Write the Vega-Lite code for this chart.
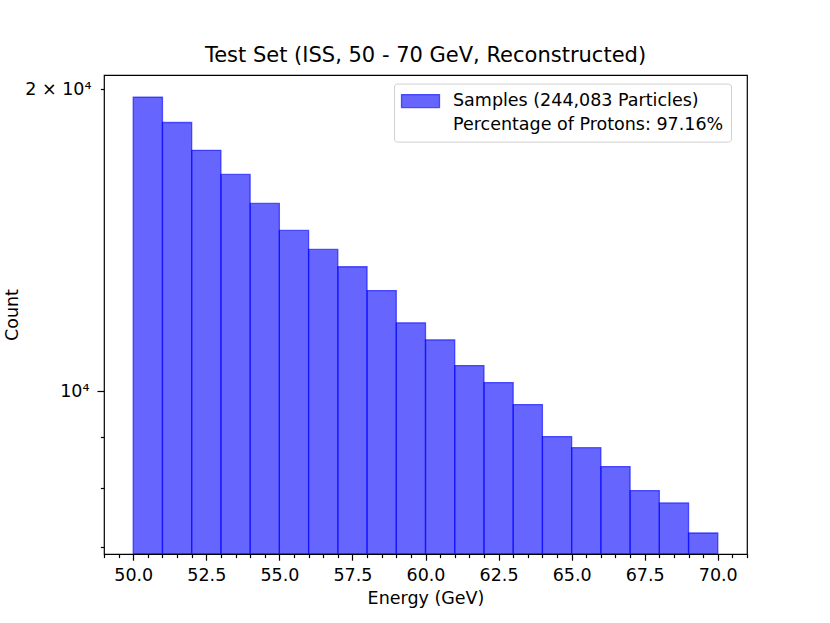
{
  "$schema": "https://vega.github.io/schema/vega-lite/v6.json",
  "width": 643,
  "height": 479,
  "autosize": {"type": "none"},
  "padding": {"left": 104, "top": 75, "right": 83, "bottom": 69},
  "background": "white",
  "title": {
    "text": "Test Set (ISS, 50 - 70 GeV, Reconstructed)",
    "fontSize": 21,
    "fontWeight": "normal",
    "font": "DejaVu Sans",
    "color": "black",
    "baseline": "alphabetic",
    "offset": -8,
    "anchor": "middle",
    "frame": "group"
  },
  "data": {
    "values": [
      {"bin_start": 50, "bin_end": 51, "count": 19650, "series": "Samples (244,083 Particles)"},
      {"bin_start": 51, "bin_end": 52, "count": 18537, "series": "Samples (244,083 Particles)"},
      {"bin_start": 52, "bin_end": 53, "count": 17390, "series": "Samples (244,083 Particles)"},
      {"bin_start": 53, "bin_end": 54, "count": 16453, "series": "Samples (244,083 Particles)"},
      {"bin_start": 54, "bin_end": 55, "count": 15393, "series": "Samples (244,083 Particles)"},
      {"bin_start": 55, "bin_end": 56, "count": 14468, "series": "Samples (244,083 Particles)"},
      {"bin_start": 56, "bin_end": 57, "count": 13851, "series": "Samples (244,083 Particles)"},
      {"bin_start": 57, "bin_end": 58, "count": 13310, "series": "Samples (244,083 Particles)"},
      {"bin_start": 58, "bin_end": 59, "count": 12603, "series": "Samples (244,083 Particles)"},
      {"bin_start": 59, "bin_end": 60, "count": 11702, "series": "Samples (244,083 Particles)"},
      {"bin_start": 60, "bin_end": 61, "count": 11254, "series": "Samples (244,083 Particles)"},
      {"bin_start": 61, "bin_end": 62, "count": 10608, "series": "Samples (244,083 Particles)"},
      {"bin_start": 62, "bin_end": 63, "count": 10202, "series": "Samples (244,083 Particles)"},
      {"bin_start": 63, "bin_end": 64, "count": 9699, "series": "Samples (244,083 Particles)"},
      {"bin_start": 64, "bin_end": 65, "count": 9012, "series": "Samples (244,083 Particles)"},
      {"bin_start": 65, "bin_end": 66, "count": 8787, "series": "Samples (244,083 Particles)"},
      {"bin_start": 66, "bin_end": 67, "count": 8413, "series": "Samples (244,083 Particles)"},
      {"bin_start": 67, "bin_end": 68, "count": 7962, "series": "Samples (244,083 Particles)"},
      {"bin_start": 68, "bin_end": 69, "count": 7740, "series": "Samples (244,083 Particles)"},
      {"bin_start": 69, "bin_end": 70, "count": 7223, "series": "Samples (244,083 Particles)"}
    ]
  },
  "layer": [
    {
      "mark": {"type": "bar", "strokeWidth": 1.3, "clip": true},
      "encoding": {
        "x": {
          "field": "bin_start", "type": "quantitative",
          "scale": {"domain": [49, 71], "nice": false, "zero": false},
          "axis": {
            "orient": "bottom",
            "values": [50, 52.5, 55, 57.5, 60, 62.5, 65, 67.5, 70],
            "format": ".1f",
            "tickSize": 6.2,
            "labelPadding": 6,
            "title": "Energy (GeV)",
            "titleX": 321.5,
            "titleY": 49.5,
            "titleBaseline": "alphabetic",
            "titleAlign": "center"
          }
        },
        "x2": {"field": "bin_end"},
        "y": {
          "field": "count", "type": "quantitative",
          "scale": {"type": "log", "domain": [6883, 20672], "nice": false, "zero": false},
          "axis": {
            "orient": "left",
            "values": [10000],
            "labelExpr": "'10⁴'",
            "tickSize": 7,
            "labelPadding": 8,
            "title": null
          }
        },
        "y2": {"datum": 6883},
        "fill": {
          "field": "series", "type": "nominal",
          "scale": {
            "domain": ["Samples (244,083 Particles)", "Percentage of Protons: 97.16%"],
            "range": ["rgba(0,0,255,0.6)", "rgba(0,0,0,0)"]
          },
          "legend": {"title": null}
        },
        "stroke": {
          "field": "series", "type": "nominal",
          "scale": {
            "domain": ["Samples (244,083 Particles)", "Percentage of Protons: 97.16%"],
            "range": ["rgba(0,0,255,0.6)", "rgba(0,0,0,0)"]
          },
          "legend": {"title": null}
        }
      }
    },
    {
      "mark": {"type": "bar", "opacity": 0},
      "encoding": {
        "x": {
          "field": "bin_start", "type": "quantitative",
          "axis": {
            "orient": "bottom",
            "values": [49, 49.5, 50.5, 51, 51.5, 52, 53, 53.5, 54, 54.5, 55.5, 56, 56.5, 57, 58, 58.5, 59, 59.5, 60.5, 61, 61.5, 62, 63, 63.5, 64, 64.5, 65.5, 66, 66.5, 67, 68, 68.5, 69, 69.5, 70.5, 71],
            "labels": false,
            "tickSize": 3.6,
            "title": null
          }
        },
        "x2": {"field": "bin_end"},
        "y": {
          "field": "count", "type": "quantitative",
          "axis": {
            "orient": "left",
            "values": [7000, 8000, 9000, 20000],
            "labelExpr": "datum.value == 20000 ? '2 × 10⁴' : ''",
            "tickSize": 3.6,
            "labelPadding": 9.4,
            "title": "Count",
            "titleX": -87,
            "titleY": 239.5,
            "titleAngle": -90,
            "titleAlign": "center",
            "titleBaseline": "alphabetic"
          }
        },
        "y2": {"datum": 6883}
      }
    }
  ],
  "resolve": {"axis": {"x": "independent", "y": "independent"}},
  "config": {
    "font": "DejaVu Sans",
    "view": {"stroke": "black", "strokeWidth": 1.2},
    "axis": {
      "domain": false,
      "grid": false,
      "tickColor": "black",
      "tickWidth": 1.2,
      "labelFont": "DejaVu Sans",
      "labelFontSize": 17.5,
      "labelColor": "black",
      "titleFont": "DejaVu Sans",
      "titleFontSize": 17.5,
      "titleFontWeight": "normal",
      "titleColor": "black"
    },
    "legend": {
      "orient": "none",
      "legendX": 290,
      "legendY": 8.6,
      "padding": 7,
      "strokeColor": "#d0d0d0",
      "fillColor": "white",
      "cornerRadius": 3,
      "labelFont": "DejaVu Sans",
      "labelFontSize": 17.5,
      "labelColor": "black",
      "labelLimit": 400,
      "labelOffset": 22,
      "symbolType": "M-2,-0.684H2V0.684H-2Z",
      "symbolSize": 361,
      "symbolOffset": 9,
      "symbolStrokeWidth": 1.3,
      "rowPadding": 4
    }
  }
}
